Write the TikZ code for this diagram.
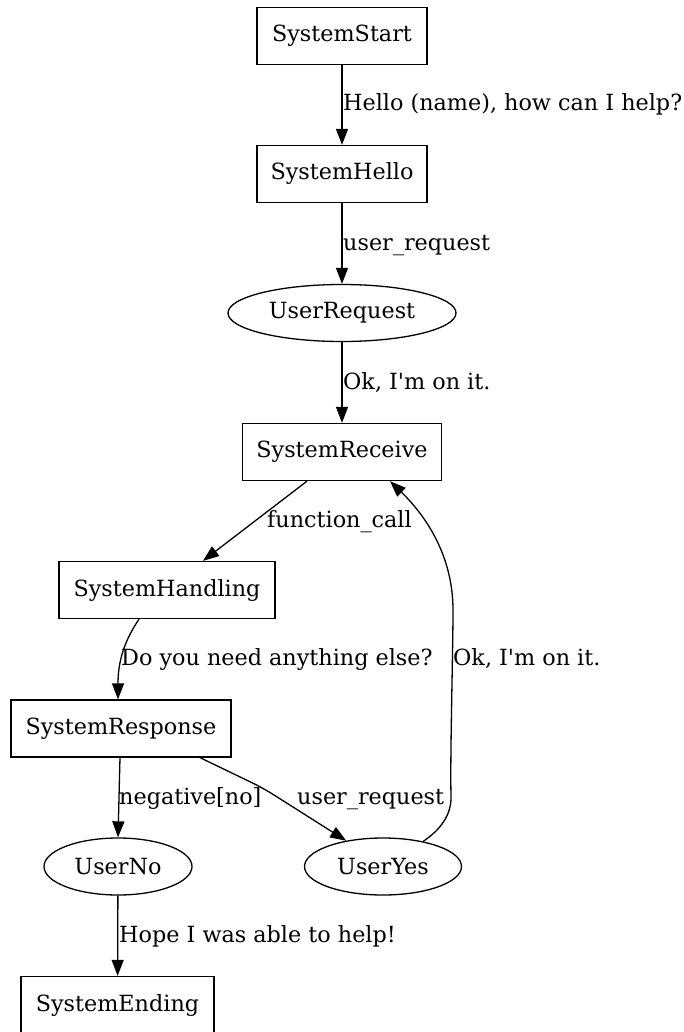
\documentclass[tikz,border=0pt]{standalone}
\usepackage{fontspec}
\setmainfont{DejaVu Serif}[Ligatures=TeXOff]
\usetikzlibrary{arrows.meta,shapes.geometric,calc}
\begin{document}
\begin{tikzpicture}[x=1pt,y=-1pt,
  every node/.style={font=\fontsize{22.3}{26}\selectfont, inner sep=0pt},
  box/.style={draw, line width=1.3pt, rectangle, minimum height=57pt},
  oval/.style={draw, line width=1.3pt, ellipse, minimum height=57pt},
  edge/.style={draw, line width=1.3pt, -{Triangle[length=16pt,width=12pt]}},
  lbl/.style={anchor=base west}]
\useasboundingbox (0,0) rectangle (683,1032);

% states
\node[box, minimum width=170pt] (start) at (342,36) {SystemStart};
\node[box, minimum width=170pt] (hello) at (342,174) {SystemHello};
\node[oval, minimum width=228pt] (req) at (342,313) {UserRequest};
\node[box, minimum width=199pt] (recv) at (342,452) {SystemReceive};
\node[box, minimum width=216pt] (handle) at (167,590) {SystemHandling};
\node[box, minimum width=220pt] (resp) at (121,728.5) {SystemResponse};
\node[oval, minimum width=148pt] (no) at (118,866.5) {UserNo};
\node[oval, minimum width=157pt] (yes) at (383,866.5) {UserYes};
\node[box, minimum width=193pt] (ending) at (117.5,1005) {SystemEnding};

% transitions
\draw[edge] (start) -- (hello);
\draw[edge] (hello) -- (req);
\draw[edge] (req) -- (recv);
\draw[edge] ([xshift=-35pt]recv.south) -- ([xshift=36pt]handle.north);
\draw[edge] ([xshift=-28pt]handle.south) .. controls (125,640) and (118,660) .. ([xshift=-3pt]resp.north);
\draw[edge] ([xshift=-1pt]resp.south) -- (no.north);
\draw[edge, rounded corners=12pt] ([xshift=79pt]resp.south) -- (263,788) -- (yes.145);
\draw[edge] (yes.32) .. controls (440,830) and (452,815) .. (451,795)
  .. controls (450,760) and (453,650) .. (453,610)
  .. controls (453,555) and (425,515) .. ([xshift=48pt]recv.south);
\draw[edge] (no) -- (ending);

% transition labels
\node[lbl] (l1) at (343,111) {Hello (name), how can I help?};
\node[lbl] (l2) at (343,250) {user\_request};
\node[lbl] (l3) at (343,389) {Ok, I'm on it.};
\node[lbl] (l4) at (267,527) {function\_call};
\node[lbl] (l5) at (121,665) {Do you need anything else?};
\node[lbl] (l6) at (453,665) {Ok, I'm on it.};
\node[lbl] (l7) at (119,804) {negative[no]};
\node[lbl] (l8) at (297,804) {user\_request};
\node[lbl] (l9) at (119,942) {Hope I was able to help!};
\end{tikzpicture}
\end{document}
